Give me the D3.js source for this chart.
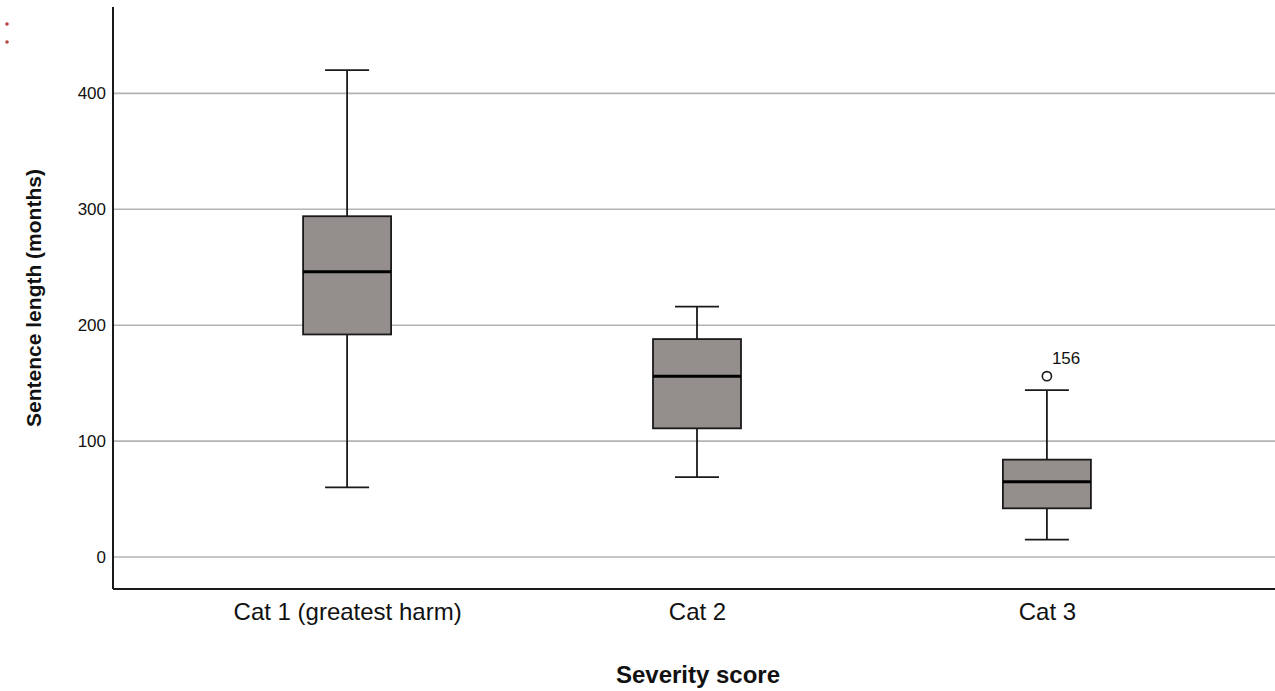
<!DOCTYPE html>
<html>
<head>
<meta charset="utf-8">
<script src="https://cdn.jsdelivr.net/npm/d3@7"></script>
<style>
  html, body { margin: 0; padding: 0; background: #fff; }
  svg { display: block; font-family: "Liberation Sans", Arial, sans-serif; }
</style>
</head>
<body>
<div id="chart"></div>
<script>
// categories and box statistics (months)
const categories = ["Cat 1 (greatest harm)", "Cat 2", "Cat 3"];
const whiskerLow  = [60, 69, 15];
const q1          = [192, 111, 42];
const medians     = [246, 156, 65];
const q3          = [294, 188, 84];
const whiskerHigh = [420, 216, 144];
const outliers    = [{cat: "Cat 3", value: 156, label: "156"}];
const yTicks      = [0, 100, 200, 300, 400];

const boxes = categories.map((c, i) => ({
  cat: c, lo: whiskerLow[i], q1: q1[i], med: medians[i], q3: q3[i], hi: whiskerHigh[i]
}));

const W = 1275, H = 691;
const margin = {top: 7, right: 0, bottom: 102, left: 113};

const svg = d3.select("#chart")
              .append("svg")
              .attr("width", W)
              .attr("height", H);

const x = d3.scalePoint()
            .domain(categories)
            .range([margin.left, 1281])
            .padding(0.669);

const y = d3.scaleLinear()
            .domain([-27.6, 474.5])
            .range([H - margin.bottom, margin.top]);

// gridlines
svg.append("g")
   .selectAll("line")
   .data(yTicks)
   .join("line")
   .attr("x1", margin.left)
   .attr("x2", W)
   .attr("y1", d => y(d))
   .attr("y2", d => y(d))
   .attr("stroke", "#b3b3b3")
   .attr("stroke-width", 1.6);

// y axis labels
const yAxis = svg.append("g")
                 .attr("transform", `translate(${margin.left}, 0)`)
                 .call(d3.axisLeft(y).tickValues(yTicks).tickSize(0).tickPadding(7));
yAxis.select(".domain").remove();
yAxis.selectAll("text")
     .attr("font-size", 17)
     .attr("font-family", "Liberation Sans, Arial, sans-serif")
     .attr("fill", "#111");

// x axis labels
const xAxis = svg.append("g")
                 .attr("transform", `translate(0, ${y.range()[0]})`)
                 .call(d3.axisBottom(x).tickSize(0).tickPadding(14));
xAxis.select(".domain").remove();
xAxis.selectAll("text")
     .attr("font-size", 24)
     .attr("font-family", "Liberation Sans, Arial, sans-serif")
     .attr("fill", "#111");

// axis lines
svg.append("line")
   .attr("x1", margin.left).attr("x2", margin.left)
   .attr("y1", y.range()[1]).attr("y2", y.range()[0])
   .attr("stroke", "#1a1a1a").attr("stroke-width", 2);
svg.append("line")
   .attr("x1", margin.left).attr("x2", W)
   .attr("y1", y.range()[0]).attr("y2", y.range()[0])
   .attr("stroke", "#1a1a1a").attr("stroke-width", 2);

// boxes
const boxW = 88, capW = 44;
const g = svg.append("g")
             .selectAll("g")
             .data(boxes)
             .join("g")
             .attr("transform", d => `translate(${x(d.cat)}, 0)`);

g.append("line")
 .attr("y1", d => y(d.lo)).attr("y2", d => y(d.hi))
 .attr("stroke", "#1a1a1a").attr("stroke-width", 1.8);
g.append("line")
 .attr("x1", -capW / 2).attr("x2", capW / 2)
 .attr("y1", d => y(d.lo)).attr("y2", d => y(d.lo))
 .attr("stroke", "#1a1a1a").attr("stroke-width", 1.8);
g.append("line")
 .attr("x1", -capW / 2).attr("x2", capW / 2)
 .attr("y1", d => y(d.hi)).attr("y2", d => y(d.hi))
 .attr("stroke", "#1a1a1a").attr("stroke-width", 1.8);
g.append("rect")
 .attr("x", -boxW / 2)
 .attr("width", boxW)
 .attr("y", d => y(d.q3))
 .attr("height", d => y(d.q1) - y(d.q3))
 .attr("fill", "#948f8d")
 .attr("stroke", "#1a1a1a")
 .attr("stroke-width", 1.8);
g.append("line")
 .attr("x1", -boxW / 2).attr("x2", boxW / 2)
 .attr("y1", d => y(d.med)).attr("y2", d => y(d.med))
 .attr("stroke", "#000").attr("stroke-width", 3);

// outliers
const o = svg.append("g")
             .selectAll("g")
             .data(outliers)
             .join("g");
o.append("circle")
 .attr("cx", d => x(d.cat))
 .attr("cy", d => y(d.value))
 .attr("r", 4.6)
 .attr("fill", "#fff")
 .attr("stroke", "#1a1a1a")
 .attr("stroke-width", 1.6);
o.append("text")
 .attr("x", d => x(d.cat) + 5)
 .attr("y", d => y(d.value) - 12)
 .attr("font-size", 17)
 .attr("fill", "#111")
 .text(d => d.label);

// axis titles
svg.append("text")
   .attr("transform", `translate(33, ${(y.range()[0] + y.range()[1]) / 2}) rotate(-90)`)
   .attr("text-anchor", "middle")
   .attr("dominant-baseline", "central")
   .attr("font-size", 21)
   .attr("font-weight", "bold")
   .attr("fill", "#111")
   .text("Sentence length (months)");

svg.append("text")
   .attr("x", (margin.left + W) / 2 + 4)
   .attr("y", 683)
   .attr("text-anchor", "middle")
   .attr("font-size", 24)
   .attr("font-weight", "bold")
   .attr("fill", "#111")
   .text("Severity score");

// small red marks at top-left corner
svg.append("g")
   .selectAll("circle")
   .data([24, 42])
   .join("circle")
   .attr("cx", 7).attr("cy", d => d)
   .attr("r", 1.8)
   .attr("fill", "#b5473f");
</script>
</body>
</html>
